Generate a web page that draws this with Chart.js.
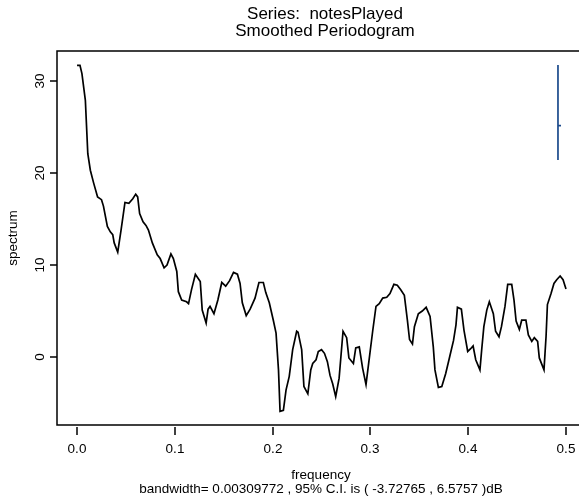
<!DOCTYPE html>
<html>
<head>
<meta charset="utf-8">
<script src="https://cdn.jsdelivr.net/npm/chart.js@4.4.1/dist/chart.umd.min.js"></script>
<style>
  html, body { margin: 0; padding: 0; background: #fff; overflow: hidden; }
  #spec { display: block; }
</style>
</head>
<body>
<canvas id="spec" width="579" height="500"></canvas>
<script>
// smoothed periodogram of notesPlayed (spectrum in dB)
const freq = [
  0.000, 0.003, 0.005, 0.0085, 0.011, 0.0136, 0.017, 0.021, 0.025, 0.027,
  0.031, 0.034, 0.0365, 0.038, 0.0416, 0.045, 0.049, 0.053, 0.057, 0.060,
  0.062, 0.064, 0.0675, 0.0705, 0.073, 0.077, 0.082, 0.085, 0.089, 0.092,
  0.096, 0.0985, 0.102, 0.1036, 0.107, 0.112, 0.114, 0.117, 0.121, 0.126,
  0.128, 0.132, 0.134, 0.136, 0.140, 0.144, 0.148, 0.152, 0.156, 0.160,
  0.164, 0.1667, 0.169, 0.173, 0.177, 0.182, 0.186, 0.1905, 0.193, 0.1966,
  0.2007, 0.2035, 0.206, 0.2076, 0.211, 0.2137, 0.217, 0.2205, 0.2246, 0.226,
  0.2297, 0.232, 0.236, 0.239, 0.241, 0.2444, 0.2467, 0.250, 0.253, 0.256,
  0.2587, 0.2614, 0.2645, 0.268, 0.272, 0.2757, 0.278, 0.2826, 0.285, 0.2886,
  0.292, 0.2955, 0.2989, 0.3023, 0.3057, 0.309, 0.3126, 0.3167, 0.320, 0.324,
  0.3275, 0.331, 0.3347, 0.3378, 0.340, 0.343, 0.345, 0.349, 0.353, 0.357,
  0.361, 0.3643, 0.366, 0.3695, 0.373, 0.377, 0.381, 0.385, 0.3875, 0.389,
  0.393, 0.3957, 0.3995, 0.4025, 0.405, 0.4077, 0.412, 0.4138, 0.416, 0.419,
  0.4216, 0.4257, 0.428, 0.4315, 0.434, 0.4376, 0.4404, 0.4445, 0.4468, 0.449,
  0.4523, 0.4547, 0.459, 0.4615, 0.465, 0.4676, 0.471, 0.4727, 0.4775, 0.4796,
  0.481, 0.4847, 0.4877, 0.4905, 0.494, 0.497, 0.500
];
const spectrum = [
  31.7, 31.7, 30.8, 27.9, 22.1, 20.3, 18.9, 17.4, 17.1, 16.4,
  14.2, 13.6, 13.3, 12.4, 11.4, 13.8, 16.8, 16.7, 17.2, 17.7,
  17.4, 15.6, 14.7, 14.3, 13.8, 12.4, 11.1, 10.7, 9.7, 10.0,
  11.2, 10.7, 9.3, 7.1, 6.2, 6.0, 5.8, 7.3, 9.0, 8.2,
  5.1, 3.7, 5.2, 5.5, 4.7, 6.2, 8.1, 7.7, 8.3, 9.2,
  9.0, 8.0, 5.9, 4.5, 5.2, 6.4, 8.1, 8.1, 7.0, 5.9,
  4.0, 2.6, -1.4, -5.9, -5.8, -3.6, -2.1, 0.8, 2.8, 2.7,
  0.8, -3.2, -4.0, -1.4, -0.7, -0.3, 0.6, 0.8, 0.4, -0.5,
  -2.0, -2.9, -4.3, -2.3, 2.8, 2.1, -0.1, -0.7, 1.0, 1.1,
  -1.2, -3.0, -0.1, 2.8, 5.5, 5.8, 6.4, 6.5, 6.9, 7.9,
  7.8, 7.3, 6.7, 4.0, 1.9, 1.4, 3.3, 4.7, 5.0, 5.4,
  4.4, 1.1, -1.4, -3.3, -3.2, -1.8, 0.0, 1.8, 3.5, 5.4,
  5.2, 2.9, 0.6, 0.9, 1.2, -0.3, -1.4, 0.8, 3.3, 5.1,
  6.0, 4.7, 2.8, 2.2, 3.3, 5.5, 7.9, 7.9, 6.2, 3.9,
  3.0, 4.0, 4.0, 2.4, 1.7, 2.1, 1.7, -0.1, -1.4, 2.2,
  5.7, 6.9, 8.0, 8.4, 8.8, 8.4, 7.4
];

const xTicks = [0, 0.1, 0.2, 0.3, 0.4, 0.5];
const yTicks = [0, 10, 20, 30];

// confidence interval bar, from the bandwidth line
const bandwidth = 0.00309772;
const ciLower = 3.72765;
const ciUpper = 6.5757;
const ciX = 0.4918;
const ciCenter = 25.15;

const FONT = '"Liberation Sans", Arial, Helvetica, sans-serif';

const rAxes = {
  id: 'rAxes',
  afterDraw(chart) {
    const ctx = chart.ctx;
    const a = chart.chartArea;
    const xs = chart.scales.x;
    const ys = chart.scales.y;
    ctx.save();
    ctx.strokeStyle = '#000';
    ctx.fillStyle = '#000';
    ctx.lineWidth = 1.5;

    // plot box, its right side runs off the canvas
    ctx.beginPath();
    ctx.moveTo(a.right + 20, a.top);
    ctx.lineTo(a.left, a.top);
    ctx.lineTo(a.left, a.bottom);
    ctx.lineTo(a.right + 20, a.bottom);
    ctx.stroke();

    ctx.font = '13.5px ' + FONT;
    ctx.textAlign = 'center';
    ctx.textBaseline = 'middle';

    xTicks.forEach((v) => {
      const px = Math.round(xs.getPixelForValue(v));
      ctx.beginPath();
      ctx.moveTo(px, a.bottom + 2);
      ctx.lineTo(px, a.bottom + 10);
      ctx.stroke();
      ctx.fillText(v.toFixed(1), px, a.bottom + 24);
    });

    yTicks.forEach((v) => {
      const py = Math.round(ys.getPixelForValue(v));
      ctx.beginPath();
      ctx.moveTo(a.left - 7, py);
      ctx.lineTo(a.left, py);
      ctx.stroke();
      ctx.save();
      ctx.translate(a.left - 17, py);
      ctx.rotate(-Math.PI / 2);
      ctx.fillText(String(v), 0, 0);
      ctx.restore();
    });

    const midX = (a.left + 585) / 2;
    ctx.fillText('frequency', midX, 475);
    ctx.fillText('bandwidth= ' + bandwidth + ' , 95% C.I. is ( -' + ciLower + ' , ' + ciUpper + ' )dB', midX, 489);

    ctx.save();
    ctx.translate(13, (a.top + a.bottom) / 2);
    ctx.rotate(-Math.PI / 2);
    ctx.fillText('spectrum', 0, 0);
    ctx.restore();

    ctx.font = '17px ' + FONT;
    ctx.fillText('Series:  notesPlayed', midX + 4, 14);
    ctx.fillText('Smoothed Periodogram', midX + 4, 31);
    ctx.restore();
  }
};

new Chart(document.getElementById('spec'), {
  type: 'scatter',
  data: {
    datasets: [
      {
        data: freq.map((f, i) => ({ x: f, y: spectrum[i] })),
        showLine: true,
        borderColor: '#000',
        borderWidth: 1.7,
        pointRadius: 0,
        tension: 0,
      },
      {
        data: [
          { x: ciX, y: ciCenter + ciUpper },
          { x: ciX, y: ciCenter - ciLower },
        ],
        showLine: true,
        borderColor: '#1b4a8c',
        borderWidth: 1.7,
        pointRadius: 0,
      },
      {
        data: [
          { x: ciX, y: ciCenter },
          { x: ciX + bandwidth, y: ciCenter },
        ],
        showLine: true,
        borderColor: '#1b4a8c',
        borderWidth: 1.7,
        pointRadius: 0,
      },
    ],
  },
  options: {
    responsive: false,
    animation: false,
    layout: { padding: { left: 57, top: 51, right: 0, bottom: 75 } },
    plugins: { legend: { display: false }, tooltip: { enabled: false } },
    scales: {
      x: { type: 'linear', display: false, min: -0.0205, max: 0.5133 },
      y: { type: 'linear', display: false, min: -7.39, max: 33.26 },
    },
  },
  plugins: [rAxes],
});
</script>
</body>
</html>
